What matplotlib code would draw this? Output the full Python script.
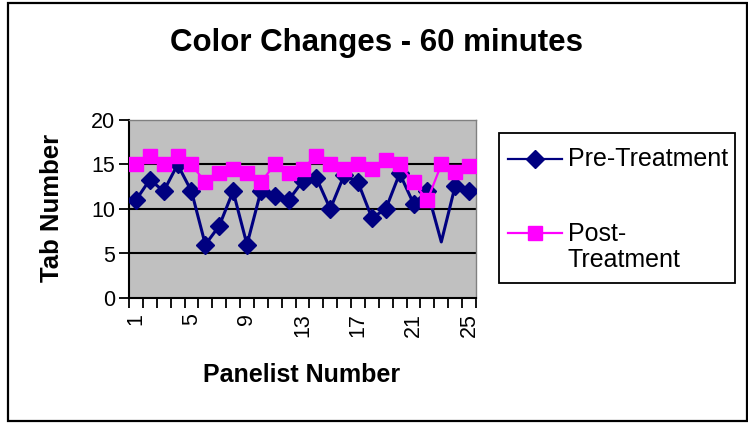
import matplotlib.pyplot as plt
from matplotlib.lines import Line2D
from matplotlib.patches import Rectangle
import numpy as np

plt.rcParams['font.family'] = ['Liberation Sans', 'DejaVu Sans']

panelists = np.arange(1, 26)
pre_treatment = [11, 13.3, 12, 15, 12, 6, 8.1, 12, 6, 12,
                 11.5, 11, 13.1, 13.5, 10, 13.8, 13, 9, 10, 14,
                 10.6, 12, 6.3, 12.6, 12]
post_treatment = [15, 16, 15, 16, 15, 13, 14, 14.5, 14, 13,
                  15, 14, 14.5, 16, 15, 14.5, 15, 14.5, 15.5, 15,
                  13, 11, 15, 14.2, 14.8]
x_labels = [1, 5, 9, 13, 17, 21, 25]
y_ticks = [0, 5, 10, 15, 20]

W, H = 748, 423
fig = plt.figure(figsize=(W / 100, H / 100), dpi=100)


def fx(px):
    return px / W


def fy(py):
    return 1 - py / H


# outer chart border
fig.add_artist(Rectangle((fx(8), fy(421)), fx(747) - fx(8), fy(3) - fy(421),
                         transform=fig.transFigure, fill=False,
                         edgecolor='black', lw=1.6))

ax = fig.add_axes([fx(129), fy(298), fx(476) - fx(129), fy(120) - fy(298)])
ax.set_facecolor('#C0C0C0')

# point 23 of the pre-treatment series has no marker
pre_marks = [i for i in range(len(panelists)) if i != 22]
ax.plot(panelists, pre_treatment, color='#000080', lw=2.2, marker='D',
        markersize=9, markevery=pre_marks, zorder=3)
ax.plot(panelists, post_treatment, color='#FF00FF', lw=1.6, marker='s',
        markersize=10, zorder=4)

ax.set_xlim(0.5, 25.5)
ax.set_ylim(0, 20)
for v in [5, 10, 15]:
    ax.axhline(v, color='black', lw=1.5, zorder=1)

ax.set_yticks(y_ticks)
ax.set_yticklabels([str(v) for v in y_ticks], fontsize=15.5)
ax.set_xticks(x_labels)
ax.set_xticklabels([str(v) for v in x_labels], rotation=90, fontsize=15.5,
                   va='top')
ax.set_xticks(np.arange(0.5, 26, 1), minor=True)
ax.tick_params(axis='x', which='major', length=0, pad=11)
ax.tick_params(axis='x', which='minor', length=7, width=1.3, direction='out')
ax.tick_params(axis='y', length=7, width=1.3, direction='out', pad=3)

for side in ['top', 'right']:
    ax.spines[side].set_color('#808080')
    ax.spines[side].set_linewidth(1.0)
for side in ['left', 'bottom']:
    ax.spines[side].set_linewidth(1.5)

fig.text(fx(377), fy(43), 'Color Changes - 60 minutes', fontsize=22.5,
         fontweight='bold', ha='center', va='center')
fig.text(fx(302), fy(375), 'Panelist Number', fontsize=18,
         fontweight='bold', ha='center', va='center')
fig.text(fx(52), fy(208), 'Tab Number', fontsize=18.5, fontweight='bold',
         ha='center', va='center', rotation=90)

# legend box drawn by hand
fig.add_artist(Rectangle((fx(499), fy(283)), fx(735) - fx(499),
                         fy(133) - fy(283), transform=fig.transFigure,
                         fill=False, edgecolor='black', lw=1.3))
fig.add_artist(Line2D([fx(508), fx(562)], [fy(159), fy(159)],
                      transform=fig.transFigure, color='#000080', lw=1.6))
fig.add_artist(Line2D([fx(535)], [fy(159)], transform=fig.transFigure,
                      color='#000080', marker='D', markersize=9))
fig.add_artist(Line2D([fx(508), fx(562)], [fy(233), fy(233)],
                      transform=fig.transFigure, color='#FF00FF', lw=1.6))
fig.add_artist(Line2D([fx(535)], [fy(233)], transform=fig.transFigure,
                      color='#FF00FF', marker='s', markersize=10))
fig.text(fx(568), fy(159), 'Pre-Treatment', fontsize=18, ha='left',
         va='center')
fig.text(fx(568), fy(247), 'Post-\nTreatment', fontsize=18, ha='left',
         va='center', linespacing=1.15)

fig.savefig('out.png', dpi=100)
